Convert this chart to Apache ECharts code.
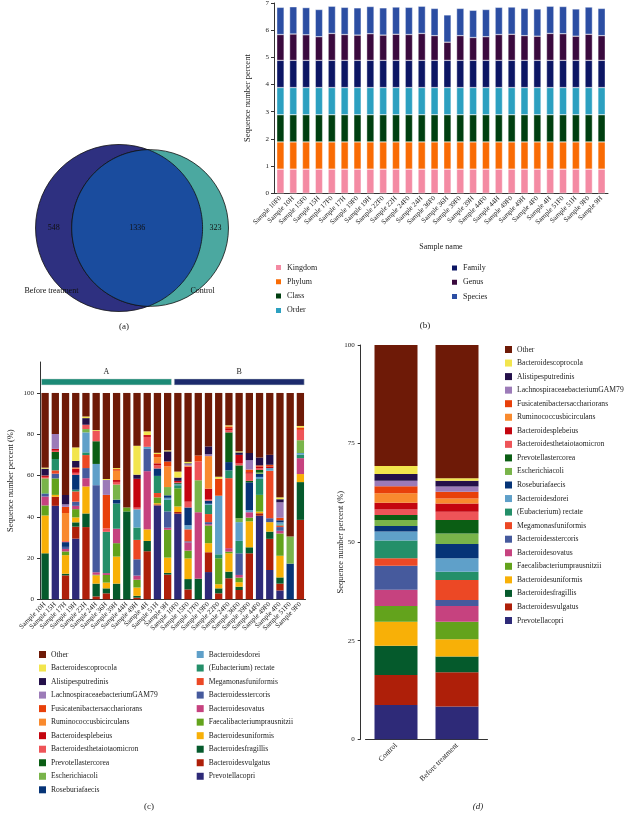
<!DOCTYPE html>
<html><head><meta charset="utf-8">
<script src="https://cdn.jsdelivr.net/npm/echarts@6/dist/echarts.min.js"></script>
<style>html,body{margin:0;padding:0;background:#fff}#c{width:634px;height:814px}</style>
</head><body><div id="c"></div><script>
// ---------- Panel (a): Venn ----------
const vennSets = ['Before treatment', 'Control'];
const vennOnly = [548, 323];
const vennShared = 1336;

// ---------- Panel (b) ----------
const samplesB = ['Sample 10F0','Sample 10H','Sample 15F0','Sample 15H','Sample 17F0','Sample 17H','Sample 19F0','Sample 19H','Sample 22F0','Sample 22H','Sample 24F0','Sample 24H','Sample 36F0','Sample 36H','Sample 39F0','Sample 39H','Sample 44F0','Sample 44H','Sample 49F0','Sample 49H','Sample 4F0','Sample 4H','Sample 51F0','Sample 51H','Sample 9F0','Sample 9H'];
const levels = ['Kingdom','Phylum','Class','Order','Family','Genus','Species'];
const kingdomB = [0.89,0.89,0.89,0.89,0.89,0.89,0.89,0.89,0.89,0.89,0.89,0.89,0.89,0.89,0.89,0.89,0.89,0.89,0.89,0.89,0.89,0.89,0.89,0.89,0.89,0.89];
const phylumB  = [1,1,1,1,1,1,1,1,1,1,1,1,1,1,1,1,1,1,1,1,1,1,1,1,1,1];
const classB   = [1,1,1,1,1,1,1,1,1,1,1,1,1,1,1,1,1,1,1,1,1,1,1,1,1,1];
const orderB   = [1,1,1,1,1,1,1,1,1,1,1,1,1,1,1,1,1,1,1,1,1,1,1,1,1,1];
const familyB  = [1,1,1,1,1,1,1,1,1,1,1,1,1,1,1,1,1,1,1,1,1,1,1,1,1,1];
const genusB   = [0.95,0.97,0.94,0.87,0.99,0.95,0.93,0.98,0.93,0.96,0.95,0.99,0.91,0.67,0.91,0.84,0.87,0.95,0.96,0.91,0.89,0.99,0.98,0.89,0.96,0.91];
const speciesB = [1,1,1,1,1,1,1,1,1,1,1,1,1,1,1,1,1,1,1,1,1,1,1,1,1,1];
const yTicksB = [0,1,2,3,4,5,6,7];

// ---------- Panel (c) ----------
const samplesC = ['Sample 10H','Sample 15H','Sample 17H','Sample 19H','Sample 22H','Sample 24H','Sample 36H','Sample 39H','Sample 44H','Sample 49H','Sample 4H','Sample 51H','Sample 9H','Sample 10F0','Sample 15F0','Sample 17F0','Sample 19F0','Sample 22F0','Sample 24F0','Sample 36F0','Sample 39F0','Sample 44F0','Sample 49F0','Sample 4F0','Sample 51F0','Sample 9F0'];
const groupNames = ['A','B'];
const groupStart = [0, 13];
const groupEnd = [12, 25];
const yTicksC = [0,20,40,60,80,100];
// species, legend order (top of stack first)
const species = ['Other','Bacteroidescoprocola','Alistipesputredinis','LachnospiraceaebacteriumGAM79','Fusicatenibactersacchariorans','Ruminococcusbicirculans','Bacteroidesplebeius','Bacteroidesthetaiotaomicron','Prevotellastercorea','Escherichiacoli','Roseburiafaecis','Bacteroidesdorei','(Eubacterium) rectate','Megamonasfuniformis','Bacteroidesstercoris','Bacteroidesovatus','Faecalibacteriumprausnitzii','Bacteroidesuniformis','Bacteroidesfragillis','Bacteroidesvulgatus','Prevotellacopri'];
const cOther       = [36.2,19.9,49.4,26.4,11.4,18.0,41.7,36.4,55.5,25.6,18.6,29.0,27.8,38.1,33.4,30.3,25.9,40.6,15.7,28.3,29.1,31.3,30.0,50.6,69.6,16.0];
const cCoprocola   = [0.5,0,0,6.5,0.8,0.4,0.5,0.5,0,14.0,1.8,0.6,0.5,2.9,0.7,0,0,1.0,0.5,0.5,0,0,0,0.9,0,0.7];
const cAlistipes   = [3.3,0,4.6,3.2,3.2,0,0,0,0,2.0,0,0,4.9,1.6,0.4,0,3.8,0,0,1.2,3.5,3.8,4.8,1.5,0,0];
const cLachno      = [0,7.2,1.2,0,0,0,7.2,0,0,0,0,0,0,0,0.7,0,0.9,0,0,0,4.5,0,0,7.5,0,0];
const cFusi        = [0.2,0,3.0,0.4,0,0,16.2,0.8,0,0,0,1.5,2.4,0,0,2.9,0,8.2,0.9,0,1.3,0.6,0.8,1.2,0,1.2];
const cRumino      = [0,0,13.6,0.3,0,0,0,4.5,0,0,0,3.0,10.0,0,0.5,0,15.8,0,0,0,0,0,0,0,0,0];
const cPlebeius    = [0.5,0.9,0,1.9,0,0,0,0.9,0,14.0,0.9,1.0,0,0.7,17.0,0,5.0,0,1.0,4.2,0.7,0.8,0.8,0,0,0];
const cTheta       = [0.7,0.6,0.5,1.0,2.1,5.0,1.7,1.3,0,0.8,4.8,1.5,0,0.4,2.8,9.1,0.8,0,1.0,0.9,3.5,0.8,0,0,0,5.0];
const cPstercorea  = [0,3.4,0,0,0,11.0,0,0,0,0,0,0,0,0.5,0,0,0,0,14.4,25.6,0.7,1.3,0,0,0,0];
const cEscherichia = [7.2,0,0,0,1.6,0,0,7.3,0,0,0,0,4.0,0,0,15.5,0,0,0,1.9,0,0.6,0,0,13.1,6.2];
const cRoseburia   = [0,0,2.3,7.2,0,0,0,1.9,0,0,0,3.6,1.2,0,8.6,0,1.5,0,4.0,0,13.5,1.5,0,1.0,17.3,0];
const cDorei       = [0,0,0,0,9.7,10.3,0,0,0,8.8,1.0,0,1.0,0.5,2.0,0,0.5,28.4,0,9.1,1.0,1.0,1.3,1.0,0,0.8];
const cEubacterium = [0.3,5.5,0,0.8,1.3,0,20.0,12.2,0,6.0,0,8.3,5.6,1.5,0,0,4.5,1.9,3.8,6.0,0,7.7,0,0.5,0,1.7];
const cMegamonas   = [0,1.6,0,5.0,6.3,0,0,0,0,9.4,0,2.1,0,0,5.8,0,3.9,0,33.9,0,0,0,23.0,0.8,0,0];
const cStercoris   = [1.3,2.3,1.0,2.0,4.9,42.2,0,0,0,7.9,10.8,0,7.9,0,0.5,0,1.0,0,0,10.5,0,0,1.9,1.8,0,0];
const cOvatus      = [4.3,0,1.2,1.6,4.0,1.2,0.9,7.0,0,2.0,28.2,0,1.0,0,4.0,32.2,0.6,0,1.7,1.3,2.6,0,0,1.3,0,7.7];
const cFaecali     = [4.9,8.0,1.8,4.0,0,0.3,3.7,6.5,1.9,3.8,0,2.8,13.5,8.8,3.8,0,8.6,12.6,0.8,2.2,1.8,8.1,0,10.8,0,0];
const cUniformis   = [18.3,0.9,9.0,2.4,13.1,4.0,2.8,13.1,0,4.0,5.6,0.6,7.4,2.7,10.0,0,4.4,2.0,8.9,2.2,12.6,0.8,4.6,10.5,0,3.9];
const cFragillis   = [22.3,0,0.8,2.1,6.6,6.2,2.4,7.6,42.6,0.9,5.0,0,0.8,0,5.0,10.0,0,2.4,3.2,1.6,2.9,0,3.5,3.0,0,18.3];
const cVulgatus    = [0,4.4,11.6,5.8,35.0,1.4,2.9,0,0,0.8,23.3,0.5,12.0,0.8,4.8,0,9.6,2.9,10.2,4.5,22.3,1.2,15.1,3.3,0,38.5];
const cCopri       = [0,45.3,0,29.4,0,0,0,0,0,0,0,45.5,0,41.5,0,0,13.2,0,0,0,0,40.5,14.2,4.3,0,0];

// ---------- Panel (d) ----------
const groupsD = ['Control','Before treatment'];
const dControl = [30.7,2.0,1.7,1.4,1.8,2.4,1.7,1.4,1.3,1.5,1.4,2.3,4.5,1.9,6.1,4.1,4.0,6.1,7.4,7.6,8.7];
const dBefore  = [33.8,0.6,1.5,1.3,1.7,1.3,2.1,2.1,3.4,2.7,3.6,3.4,2.1,5.1,1.5,4.0,4.4,4.4,4.0,8.7,8.3];
const yTicksD = [0,25,50,75,100];

// ---------- styles ----------
const SERIF = '"Liberation Serif", "DejaVu Serif", serif';
const TXT = '#222';
const levelColors = ['#F48AA3','#F96B04','#003F10','#2CA0C0','#0C1664','#3A0A3E','#2C4EA3'];
const speciesColors = ['#6E1A07','#F2E54D','#24104A','#9C7BB8','#E8400A','#F98A2E','#C4050F','#EE5458','#0B5E14','#79B44A','#063477','#5FA0C9','#248F69','#EC4825','#465A9D','#C6427F','#63A31C','#F8B007','#055A2C','#AE1F09','#2E2A78'];
const cTable = [cOther,cCoprocola,cAlistipes,cLachno,cFusi,cRumino,cPlebeius,cTheta,cPstercorea,cEscherichia,cRoseburia,cDorei,cEubacterium,cMegamonas,cStercoris,cOvatus,cFaecali,cUniformis,cFragillis,cVulgatus,cCopri];
const bTable = [kingdomB,phylumB,classB,orderB,familyB,genusB,speciesB];

const axisLineStyle = {lineStyle:{color:'#333', width:1}};
const labelStyle = {fontFamily:SERIF, color:TXT, fontSize:7};

function vennRender(params, api) {
  const A = vennOnly[0] + vennShared, B = vennOnly[1] + vennShared;
  const r1 = Math.sqrt(A / Math.PI), r2 = Math.sqrt(B / Math.PI);
  const lens = d => {
    const a1 = Math.acos((d*d + r1*r1 - r2*r2) / (2*d*r1));
    const a2 = Math.acos((d*d + r2*r2 - r1*r1) / (2*d*r2));
    return r1*r1*a1 + r2*r2*a2 - 0.5*Math.sqrt((-d+r1+r2)*(d+r1-r2)*(d-r1+r2)*(d+r1+r2));
  };
  let lo = Math.abs(r1 - r2) + 1e-6, hi = r1 + r2 - 1e-6;
  for (let k = 0; k < 80; k++) { const m = (lo + hi) / 2; if (lens(m) > vennShared) lo = m; else hi = m; }
  const d = (lo + hi) / 2;
  const cx1 = -(d + r2 - r1) / 2, cx2 = cx1 + d;
  const c1 = api.coord([cx1, 0]), c2 = api.coord([cx2, 0]);
  const R1 = api.size([r1, 0])[0], R2 = api.size([r2, 0])[0];
  const D = c2[0] - c1[0];
  const a = (D*D + R1*R1 - R2*R2) / (2*D);
  const h = Math.sqrt(R1*R1 - a*a);
  const t1 = Math.atan2(h, a), t2 = Math.atan2(h, D - a);
  const pts = [];
  const N = 120;
  for (let i = 0; i <= N; i++) { const f = -t1 + 2*t1*i/N; pts.push([c1[0] + R1*Math.cos(f), c1[1] + R1*Math.sin(f)]); }
  for (let i = 0; i <= N; i++) { const f = Math.PI - t2 + 2*t2*i/N; pts.push([c2[0] + R2*Math.cos(f), c2[1] + R2*Math.sin(f)]); }
  const font = '8px ' + SERIF;
  const txt = (x, y, s) => ({type:'text', x:x, y:y, style:{text:s, fill:'#111', font:font, align:'center', verticalAlign:'middle'}});
  const yMid = c1[1];
  return {type:'group', children:[
    {type:'circle', shape:{cx:c1[0], cy:c1[1], r:R1}, style:{fill:'#2E3080', stroke:'#111', lineWidth:0.8}},
    {type:'circle', shape:{cx:c2[0], cy:c2[1], r:R2}, style:{fill:'#4BA8A0', stroke:'#111', lineWidth:0.8}},
    {type:'polygon', shape:{points:pts}, style:{fill:'#1A4C9E', stroke:'#111', lineWidth:0.8}},
    txt(((c1[0]-R1) + (c2[0]-R2)) / 2, yMid, String(vennOnly[0])),
    txt(((c2[0]-R2) + (c1[0]+R1)) / 2, yMid, String(vennShared)),
    txt(((c1[0]+R1) + (c2[0]+R2)) / 2, yMid, String(vennOnly[1])),
    txt(c1[0] - 0.81*R1, c1[1] + 0.75*R1, vennSets[0]),
    txt(c2[0] + 0.67*R2, c2[1] + 0.8*R2, vennSets[1])
  ]};
}

function headerRender(params, api) {
  const i = params.dataIndex;
  const bw = api.size([1, 0])[0];
  const p0 = api.coord([groupStart[i], 106.8]);
  const p1 = api.coord([groupEnd[i], 103.9]);
  const x0 = p0[0] - bw/2 + 1.5, x1 = p1[0] + bw/2 - 1.3;
  return {type:'group', children:[
    {type:'rect', shape:{x:x0, y:p0[1], width:x1-x0, height:p1[1]-p0[1]}, style:{fill: i === 0 ? '#1C8A76' : '#1C2A6C', stroke:'#cfd8d6', lineWidth:0.5}},
    {type:'text', x:(x0+x1)/2, y:p0[1]-7.5, style:{text:groupNames[i], fill:TXT, font:'8px ' + SERIF, align:'center', verticalAlign:'middle'}}
  ]};
}

const series = [];
// panel (b)
levels.forEach((lv, k) => {
  series.push({name:lv, type:'bar', stack:'b', xAxisIndex:0, yAxisIndex:0, barWidth:7.3,
    itemStyle:{color:levelColors[k], borderColor:'#fff', borderWidth:0.4}, data:bTable[k], silent:true});
});
// panel (c) - bottom of stack first
for (let k = species.length - 1; k >= 0; k--) {
  series.push({name:species[k], type:'bar', stack:'c', xAxisIndex:1, yAxisIndex:1, barWidth:7.3,
    itemStyle:{color:speciesColors[k]}, data:cTable[k], silent:true});
}
series.push({type:'custom', xAxisIndex:1, yAxisIndex:1, renderItem:headerRender, silent:true,
  data:groupNames.map((g, i) => [groupStart[i], 105]), encode:{x:0, y:1}});
// panel (d)
for (let k = species.length - 1; k >= 0; k--) {
  series.push({name:species[k], type:'bar', stack:'d', xAxisIndex:2, yAxisIndex:2, barWidth:43,
    itemStyle:{color:speciesColors[k]}, data:[dControl[k], dBefore[k]], silent:true});
}
// panel (a)
series.push({type:'custom', xAxisIndex:3, yAxisIndex:3, renderItem:vennRender, silent:true, data:[[0,0]], encode:{x:0, y:1}});

const legendBase = {orient:'vertical', icon:'rect', itemWidth:7, itemHeight:7, padding:0, selectedMode:false,
  textStyle:{fontFamily:SERIF, color:TXT, fontSize:7.6, lineHeight:8}};

const gridBase = {containLabel:false, outerBoundsMode:'none'};
const option = {
  animation:false,
  backgroundColor:'#fff',
  grid:[
    Object.assign({left:274, top:3, width:334, height:190.3}, gridBase),
    Object.assign({left:40, top:362, width:265.5, height:237.3}, gridBase),
    Object.assign({left:365.5, top:345, width:122, height:394.3}, gridBase),
    Object.assign({left:2.4, top:98.4, width:259.2, height:259.2}, gridBase)
  ],
  xAxis:[
    {type:'category', gridIndex:0, data:samplesB, axisLine:axisLineStyle, axisTick:{length:3, lineStyle:{color:'#333'}},
     axisLabel:Object.assign({rotate:45, interval:0, margin:4}, labelStyle),
     name:'Sample name', nameLocation:'middle', nameGap:50, nameMoveOverlap:false, nameTextStyle:{fontFamily:SERIF, color:TXT, fontSize:8}},
    {type:'category', gridIndex:1, data:samplesC, axisLine:axisLineStyle, axisTick:{length:3, lineStyle:{color:'#333'}},
     axisLabel:Object.assign({rotate:45, interval:0, margin:4}, labelStyle)},
    {type:'category', gridIndex:2, data:groupsD, axisLine:axisLineStyle,
     axisTick:{alignWithLabel:true, length:3, lineStyle:{color:'#333'}},
     axisLabel:Object.assign({rotate:45, margin:5, interval:0}, labelStyle, {fontSize:7.5})},
    {type:'value', gridIndex:3, min:-38, max:38, show:false}
  ],
  yAxis:[
    {type:'value', gridIndex:0, min:yTicksB[0], max:yTicksB[yTicksB.length-1], interval:1, splitLine:{show:false},
     axisLine:Object.assign({show:true, onZero:false}, axisLineStyle), axisTick:{show:true, length:3, lineStyle:{color:'#333'}},
     axisLabel:Object.assign({margin:5}, labelStyle),
     name:'Sequence number percent', nameLocation:'middle', nameGap:22, nameMoveOverlap:false, nameTextStyle:{fontFamily:SERIF, color:TXT, fontSize:8.5}},
    {type:'value', gridIndex:1, min:0, max:115, splitLine:{show:false},
     axisLine:Object.assign({show:true, onZero:false}, axisLineStyle),
     axisTick:{show:true, customValues:yTicksC, length:3, lineStyle:{color:'#333'}},
     axisLabel:Object.assign({customValues:yTicksC, margin:6}, labelStyle),
     name:'Sequence number percent (%)', nameLocation:'middle', nameGap:25, nameMoveOverlap:false, nameTextStyle:{fontFamily:SERIF, color:TXT, fontSize:8.5}},
    {type:'value', gridIndex:2, min:yTicksD[0], max:yTicksD[yTicksD.length-1], interval:25, splitLine:{show:false}, offset:4.8,
     axisLine:Object.assign({show:true, onZero:false}, axisLineStyle), axisTick:{show:true, length:3, lineStyle:{color:'#333'}},
     axisLabel:Object.assign({margin:6}, labelStyle),
     name:'Sequence number percent (%)', nameLocation:'middle', nameGap:15, nameMoveOverlap:false, nameTextStyle:{fontFamily:SERIF, color:TXT, fontSize:8.5}},
    {type:'value', gridIndex:3, min:-38, max:38, show:false}
  ],
  legend:[
    Object.assign({}, legendBase, {left:274, top:263, itemGap:5.3, data:levels.slice(0,4), textStyle:Object.assign({}, legendBase.textStyle, {fontSize:8})}),
    Object.assign({}, legendBase, {left:450, top:263.5, itemGap:5.3, data:levels.slice(4), textStyle:Object.assign({}, legendBase.textStyle, {fontSize:8})}),
    Object.assign({}, legendBase, {left:39, top:650.5, itemGap:5.53, data:species.slice(0,11)}),
    Object.assign({}, legendBase, {left:196.7, top:650.5, itemGap:5.53, data:species.slice(11)}),
    Object.assign({}, legendBase, {left:505, top:345.5, itemGap:5.55, data:species})
  ],
  graphic:[
    {type:'text', x:124, y:327, style:{text:'(a)', font:'9px ' + SERIF, fill:TXT, align:'center', verticalAlign:'middle'}},
    {type:'text', x:425, y:326, style:{text:'(b)', font:'9px ' + SERIF, fill:TXT, align:'center', verticalAlign:'middle'}},
    {type:'text', x:149, y:807, style:{text:'(c)', font:'9px ' + SERIF, fill:TXT, align:'center', verticalAlign:'middle'}},
    {type:'text', x:478, y:807, style:{text:'(d)', font:'italic 9px ' + SERIF, fill:TXT, align:'center', verticalAlign:'middle'}}
  ],
  series:series
};
const chart = echarts.init(document.getElementById('c'), null, {renderer:'canvas'});
chart.setOption(option);
</script></body></html>
